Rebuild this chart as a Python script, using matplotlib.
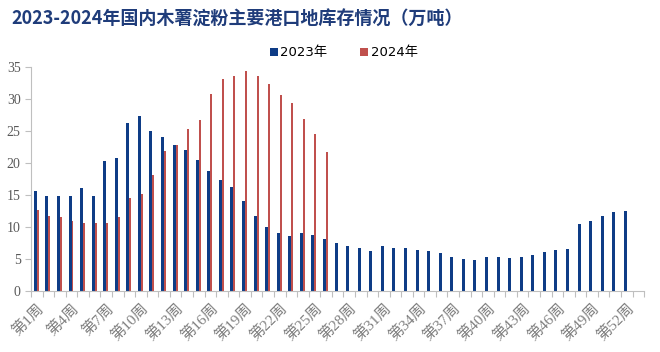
import numpy as np
import matplotlib
matplotlib.use("Agg")
from matplotlib import pyplot as plt

plt.rcParams['font.family'] = ['Liberation Serif', 'Noto Sans CJK SC', 'DejaVu Sans']

weeks = ["第%d周" % i for i in range(1, 54)]

stock_2023 = [15.6, 14.9, 14.9, 14.9, 16.1, 14.9, 20.3, 20.8, 26.3, 27.3,
              25.0, 24.1, 22.8, 22.1, 20.5, 18.8, 17.4, 16.3, 14.1, 11.8,
              10.0, 9.1, 8.6, 9.1, 8.7, 8.2, 7.5, 7.1, 6.7, 6.25,
              7.1, 6.8, 6.7, 6.35, 6.25, 6.0, 5.4, 5.05, 4.85, 5.4,
              5.3, 5.2, 5.4, 5.7, 6.15, 6.35, 6.6, 10.5, 10.9, 11.8,
              12.4, 12.55]
stock_2024 = [12.7, 11.7, 11.5, 10.9, 10.7, 10.7, 10.7, 11.5, 14.6, 15.2,
              18.1, 21.9, 22.8, 25.3, 26.7, 30.8, 33.1, 33.6, 34.3, 33.5,
              32.4, 30.6, 29.4, 26.8, 24.5, 21.7]

blue = "#0e3c86"
red = "#c0504d"

fig = plt.figure(figsize=(6.6, 3.52), dpi=100)
ax = fig.add_axes([0.047, 0.173, 0.929, 0.637])

x23 = np.arange(len(stock_2023))
x24 = np.arange(len(stock_2024))
ax.bar(x23 - 0.13, stock_2023, width=0.26, color=blue, linewidth=0, label="2023年")
ax.bar(x24 + 0.085, stock_2024, width=0.17, color=red, linewidth=0, label="2024年")

ax.set_xlim(-0.5, len(weeks) - 0.5)
ax.set_ylim(0, 35)
ax.set_yticks(range(0, 36, 5))
ax.tick_params(axis="y", colors="#595959", labelsize=10, length=4, width=0.8)
ax.tick_params(axis="y", labelcolor="#595959")

ax.set_xticks(np.arange(-0.5, len(weeks)), minor=False)
ax.set_xticklabels([])
ax.tick_params(axis="x", which="major", length=4, color="#bfbfbf", width=0.8)
lab_pos = np.arange(0, len(weeks), 3)
ax.set_xticks(lab_pos, minor=True)
ax.set_xticklabels([weeks[i] for i in lab_pos], minor=True, rotation=45,
                   ha="right", va="top", rotation_mode="anchor")
ax.tick_params(axis="x", which="minor", length=0, labelsize=11,
               labelcolor="#7f7f7f", pad=7)

for s in ["top", "right"]:
    ax.spines[s].set_visible(False)
for s in ["left", "bottom"]:
    ax.spines[s].set_color("#bfbfbf")
    ax.spines[s].set_linewidth(0.8)
ax.tick_params(axis="y", color="#bfbfbf")

leg = ax.legend(loc="lower center", bbox_to_anchor=(0.51, 0.98), ncol=2,
                frameon=False, handlelength=0.6, handleheight=0.6,
                handletextpad=0.2, columnspacing=2.5,
                prop={"family": ["DejaVu Sans", "Noto Sans CJK SC"], "size": 9.5})

fig.text(0.018, 0.945, "2023-2024年国内木薯淀粉主要港口地库存情况（万吨）",
         fontsize=13, fontweight="bold", color="#1f3c7a",
         family=["Noto Sans CJK SC", "DejaVu Sans"], va="center", ha="left")

fig.savefig("out.png", dpi=100)
